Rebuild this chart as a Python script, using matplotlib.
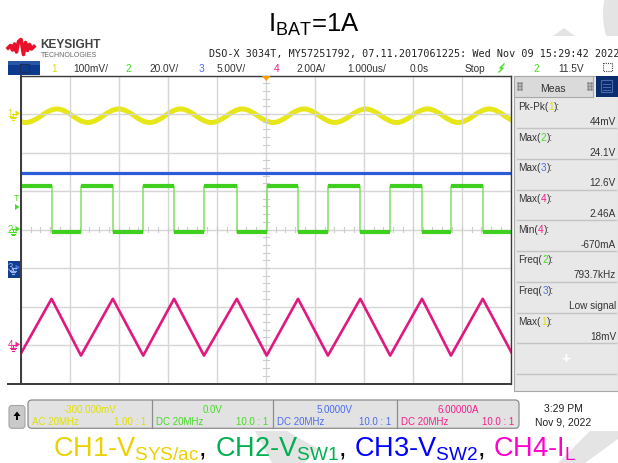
import matplotlib
matplotlib.use("Agg")
import matplotlib.pyplot as plt
from matplotlib.patches import Rectangle, FancyBboxPatch, Polygon, Circle, PathPatch
from matplotlib.path import Path

plt.rcParams['font.family'] = ['Liberation Sans', 'DejaVu Sans']
plt.rcParams['mathtext.fontset'] = 'custom'
plt.rcParams['mathtext.rm'] = 'Liberation Sans'

W, H = 618, 464

## Scope settings (from the status line)
ch_scale = [100.0, 20.0, 5.0, 2.0]     # CH1 mV/div, CH2 V/div, CH3 V/div, CH4 A/div
ch_offset_div = [3, 0, -1, -3]         # ground marker, divisions from screen centre
ch_colors = ['#e6e619', '#3fcf1f', '#2c5bd8', '#e0187f']
ch_text_colors = ['#e0e000', '#44dd22', '#4a6cf0', '#f0208c']

## Waveforms (time in us)
vsys_t_us = [-0.53, 0.10, 0.74, 1.37, 2.00, 2.63, 3.26, 3.89, 4.52,
             5.15, 5.78, 6.41, 7.04, 7.67, 8.30, 8.93, 9.56, 10.19]
vsys_mv = [13, -22, 13, -22, 13, -22, 13, -22, 13,
           -22, 13, -22, 13, -22, 13, -22, 13, -22]
sw_rise_us = [-0.02, 1.23, 2.50, 3.74, 5.02, 6.27, 7.54, 8.78, 10.05]
sw_fall_us = [0.63, 1.88, 3.13, 4.41, 5.66, 6.93, 8.19, 9.43]
vsw1_high_v = 22.5
vsw1_low_v = -1.5
vsw2_v = 12.3
il_valley_a = [-0.55, -0.55, -0.55, -0.55, -0.55, -0.55, -0.55, -0.55, -0.55]
il_peak_a = [2.40, 2.40, 2.40, 2.40, 2.40, 2.40, 2.40, 2.40]

## Texts
status_items = [("1", 51, 0), ("100mV/", 73, None), ("2", 125, 1), ("20.0V/", 149, None),
                ("3", 199, 2), ("5.00V/", 217, None), ("4", 274, 3), ("2.00A/", 296, None),
                ("1.000us/", 347, None), ("0.0s", 410, None), ("Stop", 465, None),
                ("2", 533, 1), ("11.5V", 558, None)]
meas_names = ["Pk-Pk", "Max", "Max", "Max", "Min", "Freq", "Freq", "Max"]
meas_ch = [1, 2, 3, 4, 4, 2, 3, 1]
meas_values = ["44mV", "24.1V", "12.6V", "2.46A", "-670mA", "793.7kHz", "Low signal", "18mV"]
offset_texts = ["-300.000mV", "0.0V", "5.0000V", "6.00000A"]
coupling_texts = ["AC 20MHz", "DC 20MHz", "DC 20MHz", "DC 20MHz"]
probe_texts = ["1.00 : 1", "10.0 : 1", "10.0 : 1", "10.0 : 1"]
legend_parts = [("CH1-V$_{\\mathregular{SYS/ac}}$", '#ecd000'), (", ", 'black'),
                ("CH2-V$_{\\mathregular{SW1}}$", '#00b050'), (", ", 'black'),
                ("CH3-V$_{\\mathregular{SW2}}$", '#0000ff'), (", ", 'black'),
                ("CH4-I$_{\\mathregular{L}}$", '#ff00cc')]


def to_div(ch, val):
    return val / ch_scale[ch] + ch_offset_div[ch]


fig = plt.figure(figsize=(W / 100, H / 100), dpi=100, facecolor='white')

# background layer: watermark pieces outside the screenshot
back = fig.add_axes([0, 0, 1, 1], zorder=0)
back.set_xlim(0, W)
back.set_ylim(H, 0)
back.axis('off')
wm = '#e4e4e4'
circ = Circle((680, 15), 77, color=wm, lw=0)
back.add_patch(circ)
circ.set_clip_path(Rectangle((0, 0), W, 37, transform=back.transData))
back.add_patch(Polygon([(553, 37), (564, 29), (575, 37)], color=wm, lw=0))
back.add_patch(Polygon([(255, 432), (287, 432), (318, 450), (304, 464), (272, 464)], color=wm, lw=0))
back.add_patch(Polygon([(590, 432), (618, 432), (618, 440), (585, 464), (558, 464)], color=wm, lw=0))

# scope graticule
ax = fig.add_axes([20.7 / W, (H - 384.5) / H, 490 / W, 308 / H], zorder=1)
ax.set_facecolor('white')
ax.set_xlim(0, 10)
ax.set_ylim(-4, 4)
ax.set_xticks(range(11))
ax.set_yticks(range(-4, 5))
ax.tick_params(length=0, labelbottom=False, labelleft=False)
ax.grid(True, color='#d6d6d6', lw=1.0)
for s in ax.spines.values():
    s.set_color('#3a3a3a')
    s.set_linewidth(1.0)
ax.spines['left'].set_linewidth(1.4)
ax.spines['bottom'].set_linewidth(1.4)
for k in range(1, 50):
    ax.plot([k * 0.2, k * 0.2], [-0.07, 0.07], color='#cccccc', lw=0.8)
for k in range(1, 40):
    ax.plot([4.94, 5.06], [-4 + k * 0.2] * 2, color='#cccccc', lw=0.8)

# CH3 - flat line
ax.plot([0, 10], [to_div(2, vsw2_v)] * 2, color=ch_colors[2], lw=2.3)

# CH2 - switch node square wave
edges = sorted([(t, 1) for t in sw_rise_us] + [(t, 0) for t in sw_fall_us])
hi, lo = to_div(1, vsw1_high_v), to_div(1, vsw1_low_v)
gx, gy = [-0.5], [lo]
for t, rising in edges:
    gx += [t, t]
    gy += [lo, hi] if rising else [hi, lo]
gx.append(10.5)
gy.append(gy[-1])
ax.plot(gx, gy, color='#80e060', lw=1.1)
for r, f in zip(sw_rise_us, sw_fall_us):
    ax.plot([r, f], [hi, hi], color=ch_colors[1], lw=3.0, solid_capstyle='butt')
for f, r in zip(sw_fall_us, sw_rise_us[1:]):
    ax.plot([f, r], [lo, lo], color=ch_colors[1], lw=3.0, solid_capstyle='butt')

# CH4 - inductor current triangle
tx, ty = [], []
for i, r in enumerate(sw_rise_us):
    tx.append(r)
    ty.append(to_div(3, il_valley_a[i]))
    if i < len(sw_fall_us):
        tx.append(sw_fall_us[i])
        ty.append(to_div(3, il_peak_a[i]))
ax.plot(tx, ty, color=ch_colors[3], lw=1.9)

# CH1 - ripple, smooth curve through the extremes
verts = [(vsys_t_us[0], to_div(0, vsys_mv[0]))]
codes = [Path.MOVETO]
for t0, v0, t1, v1 in zip(vsys_t_us[:-1], vsys_mv[:-1], vsys_t_us[1:], vsys_mv[1:]):
    d = t1 - t0
    verts += [(t0 + 0.364 * d, to_div(0, v0)), (t1 - 0.364 * d, to_div(0, v1)), (t1, to_div(0, v1))]
    codes += [Path.CURVE4] * 3
ax.add_patch(PathPatch(Path(verts, codes), fill=False, edgecolor=ch_colors[0], lw=3.6))

# foreground layer: screen furniture and texts
ov = fig.add_axes([0, 0, 1, 1], zorder=2)
ov.set_xlim(0, W)
ov.set_ylim(H, 0)
ov.axis('off')
ov.patch.set_alpha(0)
renderer = fig.canvas.get_renderer()


def chain(x, y, pieces, **kw):
    for s, c in pieces:
        t = ov.text(x, y, s, color=c, ha='left', va='baseline', **kw)
        bb = t.get_window_extent(renderer)
        x = ov.transData.inverted().transform((bb.x1, bb.y0))[0]
    return x


# title
ov.text(268, 31.5, "I$_{\\mathregular{BAT}}$=1A", fontsize=18.5, color='black', va='baseline')

# Keysight logo
lx = [8, 10.5, 12.5, 14.5, 16.5, 18.5, 21, 23.5, 25.5, 27.5, 29.5, 31.5, 34]
ly = [49, 46.5, 51, 45, 53, 42.5, 40.5, 55.5, 43.5, 51.5, 45.5, 50, 47.5]
ov.plot(lx, ly, color='#e8102a', lw=2.6, solid_joinstyle='round')
ov.text(40, 48.5, "KEYSIGHT", fontsize=8.6, fontweight='bold', color='#444444', va='baseline')
ov.text(41, 56.7, "TECHNOLOGIES", fontsize=5.0, color='#666666', va='baseline')
ov.text(209, 56.7, "DSO-X 3034T, MY57251792, 07.11.2017061225: Wed Nov 09 15:29:42 2022",
        fontsize=7.3, family='DejaVu Sans Mono', color='#222222', va='baseline')

# status row
ov.add_patch(Rectangle((8, 62), 32, 13.5, color='#0d3a8c', lw=0))
ov.add_patch(Rectangle((8, 62), 32, 4, color='#2a56a8', lw=0))
ov.add_patch(Rectangle((19.5, 65), 9, 8, fill=False, edgecolor='#1e2e5a', lw=0.8))
for s, x, ch in status_items:
    c = '#333333' if ch is None else ch_text_colors[ch]
    ov.text(x, 72.5, s, fontsize=7.3, color=c, va='baseline')
ov.plot([499, 503, 500, 504], [73, 69, 69, 65], color='#44dd22', lw=1.0)
ov.add_patch(Rectangle((603, 64), 9, 8, fill=False, edgecolor='#444444', lw=0.8, ls=(0, (1, 1))))

# orange trigger position marker
ov.add_patch(Polygon([(262, 77), (270.5, 77), (266.2, 82)], color='#ff9900', lw=0))

# bottom-left extension of the time axis
ov.plot([8, 21], [384.5, 384.5], color='#3a3a3a', lw=1.4)


def ground(x, y, c):
    ov.plot([x, x], [y, y + 3], color=c, lw=0.8)
    for i, w in enumerate([3.2, 2.0, 0.8]):
        ov.plot([x - w, x + w], [y + 3 + i * 1.5] * 2, color=c, lw=0.8)


def ch_marker(ch, label, box=None):
    y = 230 - 38.5 * ch_offset_div[ch]
    c = ch_text_colors[ch]
    if box:
        ov.add_patch(Rectangle((7.5, y - 6.5), 12, 17, color=box, lw=0))
        c_txt = '#9fb4f0'
    else:
        c_txt = c
    ov.text(7.8, y + 2.8, label, fontsize=7, color=c_txt, va='baseline')
    ov.plot([12, 16], [y, y], color=c_txt, lw=0.8)
    ov.add_patch(Polygon([(15.5, y - 3), (20, y), (15.5, y + 3)], color=c, lw=0))
    ground(13, y, c_txt)


ch_marker(0, "1")
ch_marker(1, "2")
ch_marker(2, "3", box='#123e8e')
ch_marker(3, "4")
ov.text(16.5, 201.5, "T", fontsize=6.5, color='#44dd22', ha='center', va='baseline')
ov.add_patch(Polygon([(15, 205), (19.5, 208), (15, 211)], color='#44dd22', lw=0))

# measurement panel
ov.add_patch(Rectangle((514, 77), 104, 315, facecolor='#e8e8e8', edgecolor='#a8a8a8', lw=0.8))
ov.add_patch(Rectangle((514, 77), 79, 21, facecolor='#dadada', edgecolor='#a8a8a8', lw=0.8))
ov.text(553, 92, "Meas", fontsize=7.5, color='#333333', ha='center', va='baseline')
for gxp in (518, 588):
    for dy in (0, 3, 6):
        ov.plot([gxp, gxp + 2.5], [84 + dy, 84 + dy], ls='none', marker='s', ms=0.9, color='#888888')
ov.add_patch(Rectangle((596, 77), 22, 21, color='#0b2d6e', lw=0))
ov.add_patch(Rectangle((601, 81), 11, 12, fill=False, edgecolor='#4a6ab0', lw=0.8))
for k in range(3):
    ov.plot([603, 610], [84.5 + 3 * k] * 2, color='#4a6ab0', lw=0.7)
for i in range(8):
    yl = 106.7 + 30.7 * i
    chain(518.5, yl + 3.3, [(meas_names[i] + "(", '#333333'),
                            (str(meas_ch[i]), ch_text_colors[meas_ch[i] - 1]),
                            ("):", '#333333')], fontsize=7.2)
    ov.text(616, yl + 18.3, meas_values[i], fontsize=7.2, color='#333333', ha='right', va='baseline')
    ov.plot([517, 616], [129.3 + 30.7 * i] * 2, color='#c4c4c4', lw=1.0)
ov.text(566, 363, "+", fontsize=11, fontweight='bold', color='white', ha='center', va='baseline')
ov.plot([517, 616], [375, 375], color='#c4c4c4', lw=1.0)

# bottom bar
ov.add_patch(FancyBboxPatch((9, 406.5), 16, 22.8, boxstyle='round,pad=0,rounding_size=3',
                            facecolor='#c9c9c9', edgecolor='#a4a4a4', lw=0.8))
ov.add_patch(Polygon([(13.5, 417), (17, 412.5), (20.5, 417)], color='black', lw=0))
ov.add_patch(Rectangle((16, 416.5), 2, 4, color='black', lw=0))
ov.add_patch(FancyBboxPatch((28, 401), 491, 28.3, boxstyle='round,pad=0,rounding_size=4',
                            facecolor='#e2e2e2', edgecolor='#8c8c8c', lw=0.9))
sec = [28, 151.7, 273.3, 396.7, 519]
for i in range(4):
    if i > 0:
        ov.plot([sec[i], sec[i]], [401, 429.3], color='#8c8c8c', lw=0.9)
    c = ch_text_colors[i]
    ov.text((sec[i] + sec[i + 1]) / 2, 413.5, offset_texts[i], fontsize=7, color=c,
            ha='center', va='baseline')
    ov.text(sec[i] + 4, 425, coupling_texts[i], fontsize=7, color=c, va='baseline')
    ov.text(sec[i + 1] - 5, 425, probe_texts[i], fontsize=7, color=c, ha='right', va='baseline')
ov.text(563, 412.5, "3:29 PM", fontsize=7.5, color='#222222', ha='center', va='baseline')
ov.text(563, 425.5, "Nov 9, 2022", fontsize=7.5, color='#222222', ha='center', va='baseline')

# channel legend under the screenshot
chain(53, 456.5, legend_parts, fontsize=19.5)

fig.savefig("out.png", dpi=100, facecolor='white')
